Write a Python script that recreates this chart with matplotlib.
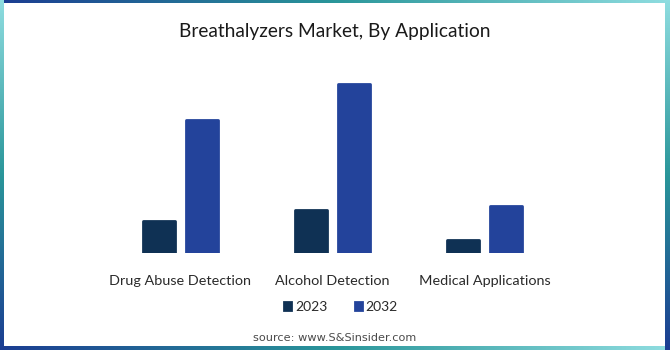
import numpy as np
import matplotlib
matplotlib.use("Agg")
import matplotlib.pyplot as plt
from matplotlib.colors import LinearSegmentedColormap

categories = ["Drug Abuse Detection", "Alcohol Detection", "Medical Applications"]
years = ["2023", "2032"]
values_2023 = [0.32, 0.43, 0.13]
values_2032 = [1.33, 1.69, 0.47]
bar_colors = ["#0f3154", "#23439b"]

plt.rcParams["font.family"] = ["Lato", "DejaVu Sans"]

fig = plt.figure(figsize=(6.7, 3.5), dpi=100)
fig.patch.set_facecolor("white")

# gradient frame around the figure (dark blue -> teal -> light cyan)
frame_cmap = LinearSegmentedColormap.from_list(
    "frame", ["#1b3d92", "#2a969a", "#8fdde0"])
grad = np.linspace(0, 1, 256)
W, H = 670, 350
edges = [
    ((0, H - 3.5, W, 3.5), "h"),   # top: dark left -> light right
    ((0, 0, W, 4.5), "h"),         # bottom
    ((0, 0, 3.5, H), "v"),         # left: dark bottom -> light top
    ((W - 5.5, 0, 5.5, H), "v"),   # right
]
for (l, b, w, h), orient in edges:
    eax = fig.add_axes([l / W, b / H, w / W, h / H])
    eax.set_axis_off()
    img = grad[None, :] if orient == "h" else grad[:, None]
    eax.imshow(img, cmap=frame_cmap, aspect="auto", origin="lower",
               interpolation="bilinear")

# main bar axes
ax = fig.add_axes([88.8 / W, 97 / H, 487 / W, 180 / H])
x = np.arange(len(categories))
offset = 0.141
width = 0.21
for i, (vals, color, label) in enumerate(zip([values_2023, values_2032],
                                             bar_colors, years)):
    ax.bar(x + (i * 2 - 1) * offset, vals, width, color=color,
           edgecolor=color, linewidth=2, joinstyle="round", label=label)

ax.set_xlim(-0.6, 2.6)
ax.set_ylim(0, 1.8)
ax.set_yticks([])
ax.set_xticks(x)
ax.set_xticklabels(categories, fontsize=10.4, color="#2a2a2a")
ax.tick_params(axis="x", length=0, pad=16)
for s in ax.spines.values():
    s.set_visible(False)

fig.text(0.5, 1 - 31 / H, "Breathalyzers Market, By Application",
         ha="center", va="center", fontsize=13.8, color="#1a1a1a")

leg = fig.legend(loc="center", bbox_to_anchor=(0.5 + 6 / W, 1 - 307 / H),
                 ncol=2, frameon=False, fontsize=10, handlelength=0.5,
                 handleheight=0.5, handletextpad=0.25, columnspacing=2.0)
for t in leg.get_texts():
    t.set_color("#2a2a2a")

fig.text(0.5, 1 - 338 / H, "source: www.S&Sinsider.com", ha="center",
         va="center", fontsize=8.1, color="#4a4a4a", family="DejaVu Sans")

fig.savefig("out.png", dpi=100)
